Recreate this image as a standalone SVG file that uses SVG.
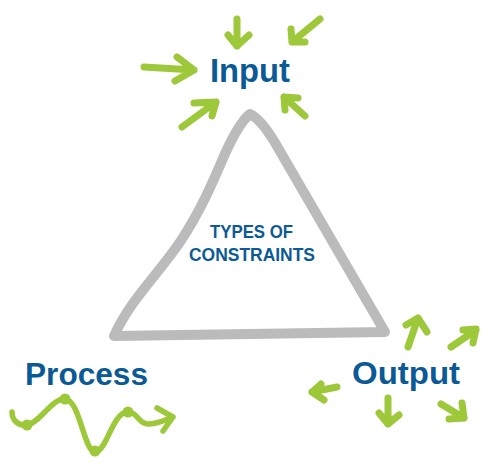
<svg xmlns="http://www.w3.org/2000/svg" width="500" height="475" viewBox="0 0 500 475">
<style>
.arrow{fill:none;stroke:#9cc83a;stroke-width:7;stroke-linecap:round;stroke-linejoin:round}
.wave{fill:none;stroke:#9cc83a;stroke-width:5.5;stroke-linecap:round;stroke-linejoin:round}
.big{font-family:"Liberation Sans",Arial,sans-serif;font-weight:bold;fill:#0b5a95}
.small{font-family:"Liberation Sans",Arial,sans-serif;font-weight:bold;fill:#0b5a95;font-size:17.5px}
.dot{fill:#9cc83a}
</style>
<rect width="500" height="475" fill="#ffffff"/>
<g id="constraints">
<path d="M 250 114 C 258 118, 266 128, 274 141 L 385 332 L 114 336 C 130 300, 160 272, 180 242 C 200 212, 213 182, 224 156 C 232 138, 240 122, 250 114 Z" fill="none" stroke="#bbbbbb" stroke-width="10" stroke-linejoin="round" stroke-linecap="round"/>
<text class="small" x="210" y="238" textLength="83" lengthAdjust="spacingAndGlyphs">TYPES OF</text>
<text class="small" x="189" y="261" textLength="126" lengthAdjust="spacingAndGlyphs">CONSTRAINTS</text>
</g>
<g id="input">
<text class="big" x="210" y="82" font-size="34" textLength="80" lengthAdjust="spacingAndGlyphs">Input</text>
</g>
<g id="process">
<text class="big" x="25" y="385" font-size="31" textLength="123" lengthAdjust="spacingAndGlyphs">Process</text>
</g>
<g id="output">
<text class="big" x="352" y="384" font-size="31" textLength="108" lengthAdjust="spacingAndGlyphs">Output</text>
</g>
<g id="connectors">
<path class="arrow" d="M 237 19 L 237 46 M 228 35 L 237 46 L 249 35"/>
<path class="arrow" d="M 320 19 L 292 42 M 291 29 L 292 42 L 305 42"/>
<path class="arrow" d="M 144 67 L 194 70 M 177 57 L 194 70 L 175 81"/>
<path class="arrow" d="M 182 127 L 216 102 M 194 103 L 216 102 L 212 116"/>
<path class="arrow" d="M 305 116 L 284 97 M 298 98 L 284 97 L 285 110"/>
<path class="wave" d="M 12 412 C 12 421, 19 426, 27 425 C 40 423, 52 398, 65 399 C 80 400, 84 452, 95 452 C 107 452, 112 412, 128 412 C 138 412, 138 424, 148 424 C 158 424, 165 420, 173 417 M 157 408 L 173 417 L 163 431"/>
<circle class="dot" cx="27" cy="425" r="5.5"/>
<circle class="dot" cx="65" cy="399" r="5.5"/>
<circle class="dot" cx="95" cy="451" r="5.5"/>
<circle class="dot" cx="128" cy="412" r="5.5"/>
<path class="arrow" d="M 408 347 L 418 318 M 406 325 L 418 318 L 427 332"/>
<path class="arrow" d="M 451 347 L 476 330 M 463 330 L 476 329 L 473 343"/>
<path class="arrow" d="M 337 387 L 312 392 M 321 384 L 312 392 L 324 400"/>
<path class="arrow" d="M 388 398 L 388 424 M 379 413 L 388 424 L 399 415"/>
<path class="arrow" d="M 441 404 L 464 418 M 462 403 L 464 418 L 449 419"/>
</g>
</svg>
